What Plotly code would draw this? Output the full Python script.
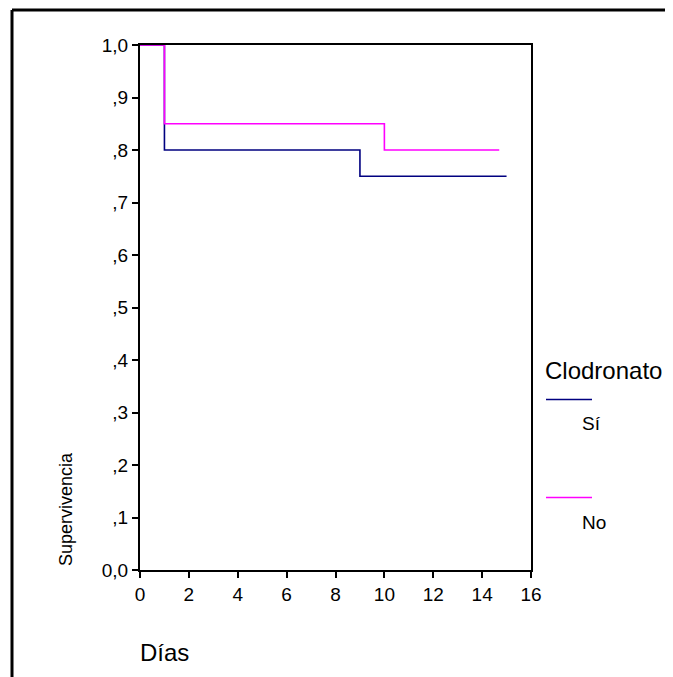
import plotly.graph_objects as go

# Data
si_time = [0, 1, 9, 15]
si_surv = [1.0, 0.80, 0.75, 0.75]
no_time = [0, 1, 10, 14.7]
no_surv = [1.0, 0.85, 0.80, 0.80]

y_tickvals = [0.0, 0.1, 0.2, 0.3, 0.4, 0.5, 0.6, 0.7, 0.8, 0.9, 1.0]
y_ticktext = ["0,0", ",1", ",2", ",3", ",4", ",5", ",6", ",7", ",8", ",9", "1,0"]
x_tickvals = [0, 2, 4, 6, 8, 10, 12, 14, 16]
x_ticktext = ["0", "2", "4", "6", "8", "10", "12", "14", "16"]

OFF = 8  # page body margin
W, H = 673 - OFF, 677 - OFF
L, T = 140 - OFF, 45 - OFF
R = W - (531 - OFF)
B = H - (570 - OFF)
pw, ph = W - L - R, H - T - B

def px(x):
    return (x - OFF - L) / pw

def py(y):
    return (H - B - (y - OFF)) / ph

FONT = "Liberation Sans, Arial, sans-serif"

fig = go.Figure()
fig.add_trace(go.Scatter(x=si_time, y=si_surv, mode="lines", line=dict(color="#000080", width=1.6, shape="hv"),
                         name="Sí", showlegend=False, cliponaxis=False))
fig.add_trace(go.Scatter(x=no_time, y=no_surv, mode="lines", line=dict(color="#FF00FF", width=1.6, shape="hv"),
                         name="No", showlegend=False, cliponaxis=False))

fig.update_layout(
    width=W, height=H,
    margin=dict(l=L, r=R, t=T, b=B),
    paper_bgcolor="white", plot_bgcolor="white",
    font=dict(family=FONT, size=19, color="black"),
    xaxis=dict(range=[0, 16], tickvals=x_tickvals, ticktext=x_ticktext, showgrid=False, zeroline=False,
               showline=True, linecolor="black", linewidth=2, mirror=True,
               ticks="outside", ticklen=6, tickwidth=1.5, tickcolor="black"),
    yaxis=dict(range=[0, 1], tickvals=y_tickvals, ticktext=y_ticktext, showgrid=False, zeroline=False,
               showline=True, linecolor="black", linewidth=2, mirror=True,
               ticks="outside", ticklen=6, tickwidth=1.5, tickcolor="black"),
)

# outer frame (left and top edges)
fig.add_shape(type="line", xref="paper", yref="paper", x0=px(12), x1=px(700), y0=py(10), y1=py(10),
              line=dict(color="black", width=3))
fig.add_shape(type="line", xref="paper", yref="paper", x0=px(12), x1=px(12), y0=py(10), y1=py(700),
              line=dict(color="black", width=3))

# axis titles
fig.add_annotation(text="Supervivencia", xref="paper", yref="paper", x=px(66), y=py(568),
                   xanchor="center", yanchor="bottom", textangle=-90, showarrow=False,
                   font=dict(size=18))
fig.add_annotation(text="Días", xref="paper", yref="paper", x=px(138), y=py(652),
                   xanchor="left", yanchor="middle", showarrow=False, font=dict(size=24))

# legend
fig.add_annotation(text="Clodronato", xref="paper", yref="paper", x=px(543), y=py(370),
                   xanchor="left", yanchor="middle", showarrow=False, font=dict(size=24))
fig.add_shape(type="line", xref="paper", yref="paper", x0=px(546), x1=px(592), y0=py(399.5), y1=py(399.5),
              line=dict(color="#000080", width=1.6))
fig.add_annotation(text="Sí", xref="paper", yref="paper", x=px(580), y=py(423),
                   xanchor="left", yanchor="middle", showarrow=False, font=dict(size=19))
fig.add_shape(type="line", xref="paper", yref="paper", x0=px(546), x1=px(592), y0=py(497.5), y1=py(497.5),
              line=dict(color="#FF00FF", width=1.6))
fig.add_annotation(text="No", xref="paper", yref="paper", x=px(580), y=py(522),
                   xanchor="left", yanchor="middle", showarrow=False, font=dict(size=19))

fig.write_html("out.html")
